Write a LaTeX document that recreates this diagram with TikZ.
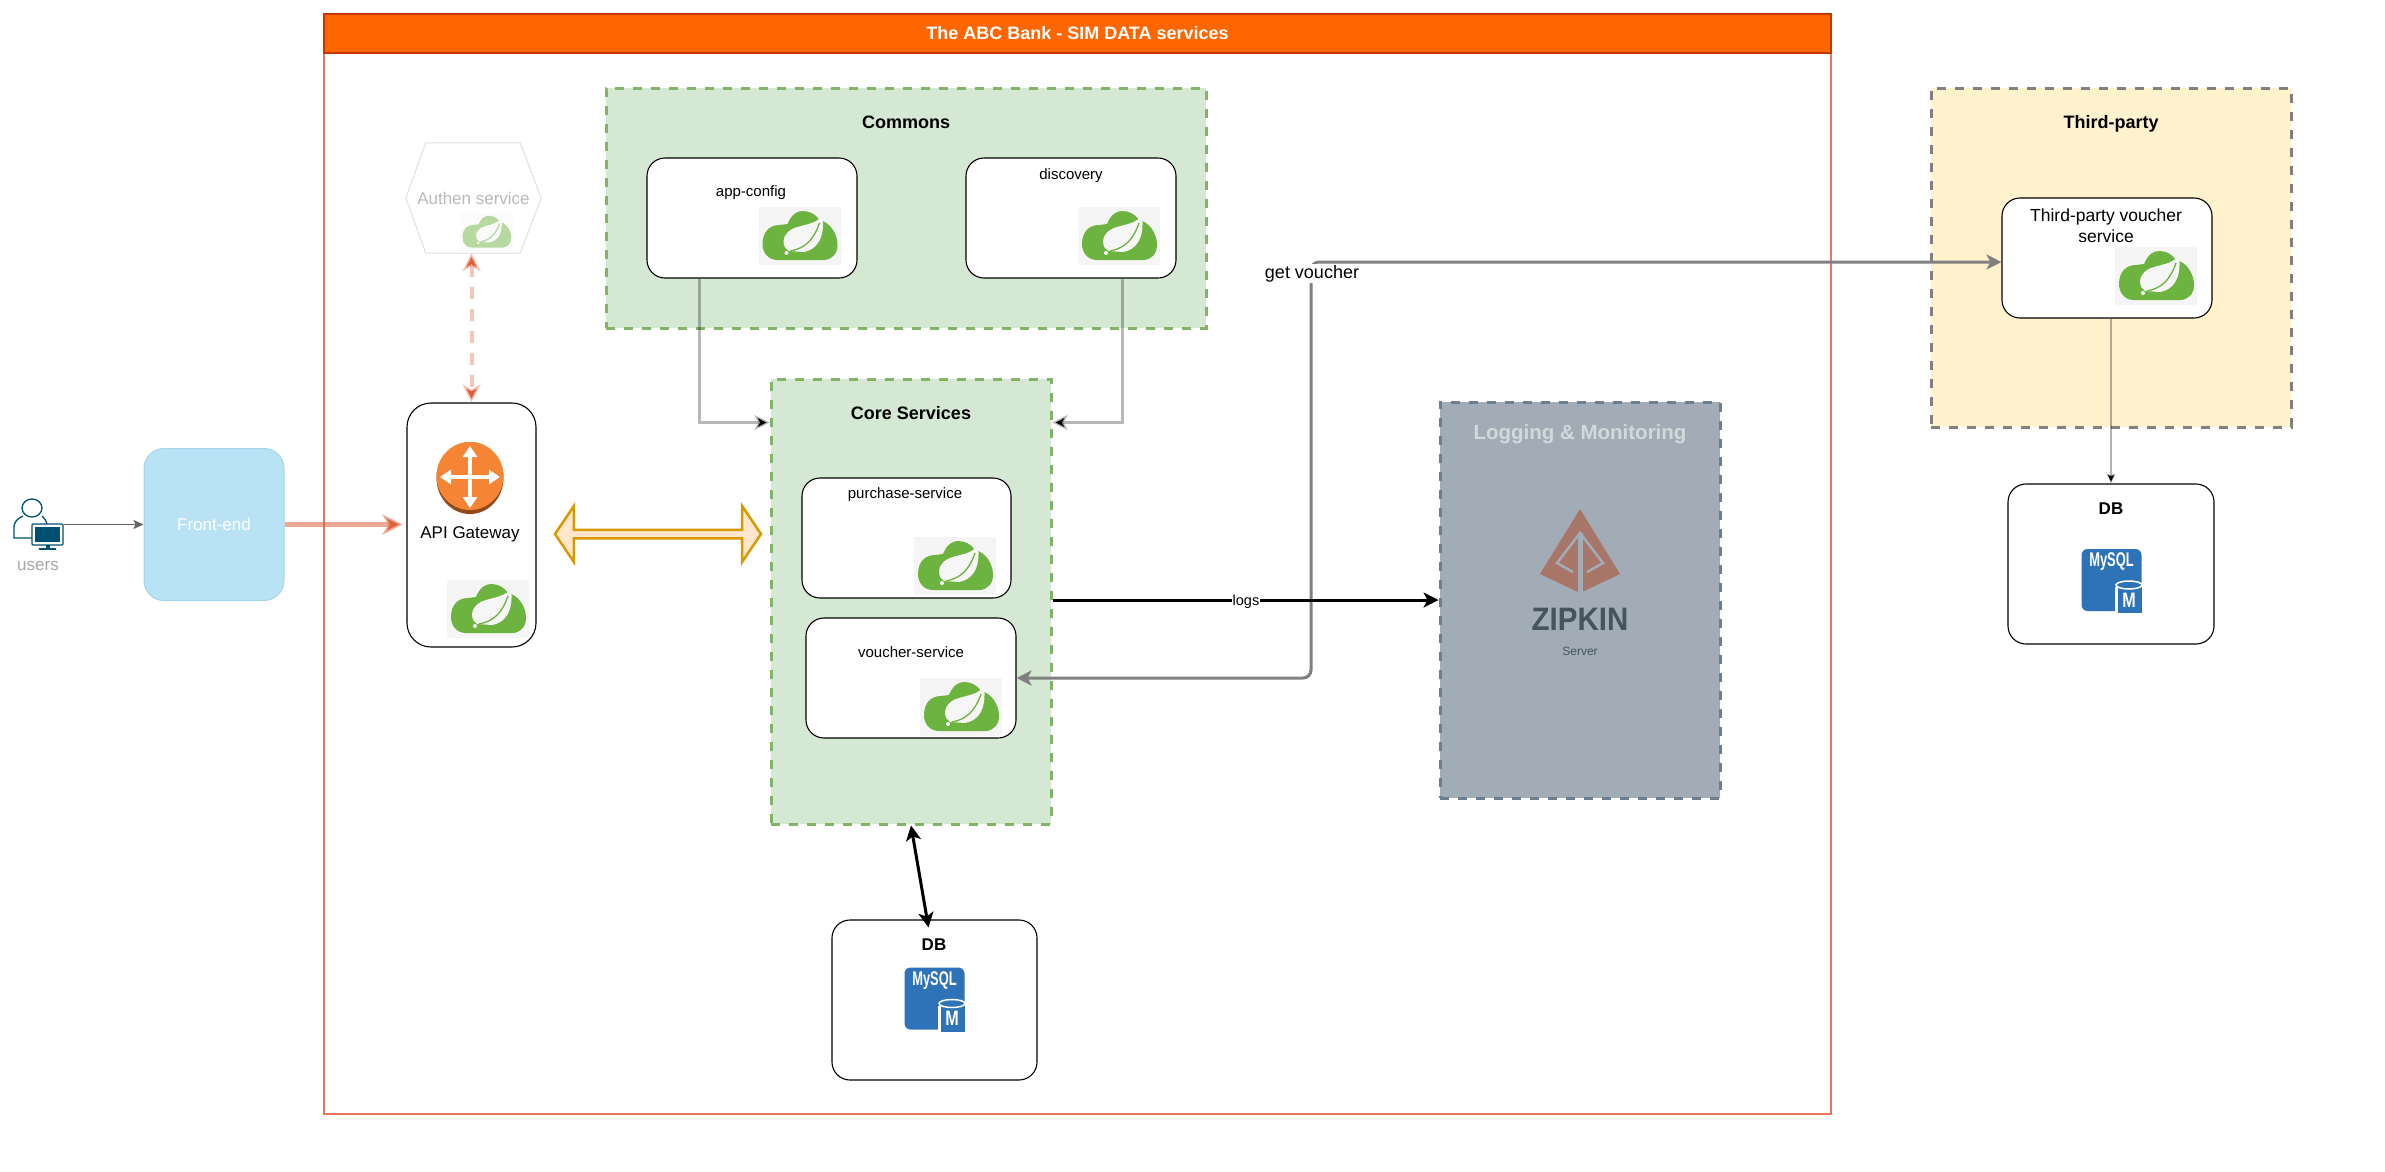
\documentclass[tikz,border=0pt]{standalone}
\usepackage{fontspec}
\setmainfont{Liberation Sans}
\usetikzlibrary{arrows.meta, positioning, shapes.arrows}
\definecolor{leafgreen}{HTML}{6DB33F}
\definecolor{leafpale}{HTML}{F6F6F6}
\definecolor{iconback}{HTML}{F5F5F5}
\definecolor{mysqlblue}{HTML}{2E73B8}
\definecolor{usersblue}{HTML}{005073}
\definecolor{greengroup}{HTML}{D5E8D4}
\definecolor{greendash}{HTML}{82B366}
\definecolor{loggrey}{HTML}{A2ACB6}
\definecolor{logdash}{HTML}{6D7F8F}
\definecolor{logtext}{HTML}{D3D8DD}
\definecolor{logdark}{HTML}{47535F}
\definecolor{zipkinred}{HTML}{A87668}
\definecolor{routerorange}{HTML}{F58534}
\definecolor{routerbrown}{HTML}{8F4A1C}
\definecolor{barorange}{HTML}{FF6600}
\definecolor{barline}{HTML}{C73500}
\definecolor{mainline}{HTML}{E8765A}
\definecolor{redarrow}{HTML}{E0603C}
\definecolor{frontblue}{HTML}{B9E2F5}
\definecolor{frontline}{HTML}{A5D3EC}
\definecolor{goldline}{HTML}{D79B00}
\definecolor{goldfill}{HTML}{FFE6CC}
\definecolor{thirdfill}{HTML}{FFF2CC}
\definecolor{palegreen}{HTML}{B6D99F}
\newcommand{\fs}[1]{\fontsize{#1}{#1}\selectfont}

\tikzset{
  springlogo/.pic={
    \fill[iconback] (-41,-29) rectangle (41,29);
    \fill[leafgreen] (-37,8) .. controls (-37,-4) and (-30,-11) .. (-20,-11)
      -- (-12,-12) .. controls (-8,-22) and (-2,-25) .. (3,-25)
      .. controls (10,-25) and (16,-22) .. (20,-16)
      .. controls (30,-14) and (38,-3) .. (38,9)
      .. controls (38,18) and (32,24) .. (24,24) -- (-22,24)
      .. controls (-32,24) and (-37,16) .. (-37,8) -- cycle;
    \fill[leafpale] (23,-21) .. controls (18,-13) and (8,-12) .. (-2,-9)
      .. controls (-10,-7) and (-16,-1) .. (-16,5)
      .. controls (-16,10) and (-14,13) .. (-11,15)
      -- (4,16) .. controls (16,14) and (26,4) .. (23,-21) -- cycle;
    \draw[leafgreen, line width=1.3pt] (-9,15) .. controls (6,12) and (14,4) .. (20,-13);
    \fill[leafpale] (-13,17) circle (2);
  },
  mysqllogo/.pic={
    \fill[mysqlblue, rounded corners=6pt] (-30,-32) rectangle (30,30);
    \fill[white] (3,6) rectangle (31,33);
    \fill[mysqlblue] (6,6) rectangle (30,32);
    \draw[white, line width=1.5pt, fill=mysqlblue] (17.5,4) ellipse (13 and 4);
    \node[font=\fs{16.5}\bfseries, text=white, xscale=.78, yscale=1.2, inner sep=0pt] (mysqltext) at (0,-19) {MySQL};
    \node[font=\fs{19}\bfseries, text=white, xscale=.85, yscale=1.1, inner sep=0pt] (mysqlm) at (17.5,19) {M};
  },
  routerlogo/.pic={
    \fill[routerbrown] (0,0) ellipse (33.5 and 36);
    \fill[routerorange] (0,-2) ellipse (33.5 and 34);
    \draw[white, line width=4pt, {Triangle[length=11pt,width=14pt]}-{Triangle[length=11pt,width=14pt]}] (0,-32) -- (0,30);
    \draw[white, line width=4pt, {Triangle[length=11pt,width=14pt]}-{Triangle[length=11pt,width=14pt]}] (-30,-1) -- (30,-1);
  },
  userlogo/.pic={
    \draw[usersblue, line width=1.3pt] (18,-16) ellipse (10 and 9);
    \draw[usersblue, line width=1.3pt] (32,14) -- (0,14) -- (0,3)
      .. controls (0,-2) and (4,-6) .. (9,-8) (28,-8) .. controls (30,-6) and (32,-4) .. (33,0);
    \draw[usersblue, line width=1.3pt, fill=white, rounded corners=1pt] (18,0) rectangle (49,21);
    \fill[usersblue] (21,3) rectangle (46,18);
    \fill[usersblue] (31.5,21) rectangle (35.5,24);
    \fill[usersblue] (25,24) rectangle (42,26);
  },
  zipkinlogo/.pic={
    \fill[zipkinred] (0,-65) -- (40,0) -- (0,19) -- (-40,0) -- cycle;
    \draw[loggrey, line width=2.5pt] (-7,-2) -- (-23,-11) -- (0,-41) -- (23,-11) -- (7,-2);
    \draw[loggrey, line width=5pt] (0,-41) -- (0,20);
  }
}

\begin{document}
\begin{tikzpicture}[
    x=1pt, y=-1pt,
    box/.style={draw=black, fill=white, line width=1.1pt, rounded corners=18pt, inner sep=0pt},
    group/.style={dash pattern=on 9pt off 9pt, line width=3pt, inner sep=0pt},
    title/.style={font=\fs{18}\bfseries, inner sep=0pt},
    small/.style={font=\fs{15}, inner sep=0pt},
    plain/.style={font=\fs{17}, inner sep=0pt},
    greyarr/.style={draw=gray, line width=3pt, rounded corners=8pt},
    softarr/.style={draw=black, draw opacity=.28, line width=3pt},
    blackarr/.style={draw=black, line width=3pt}
]
\useasboundingbox (0,0) rectangle (2385,1171);

\node[draw=mainline, line width=1.5pt, fill=white, minimum width=1507pt, minimum height=1100pt] (main) at (1077.5,564) {};
\node[draw=barline, fill=barorange, line width=1.2pt, minimum width=1507pt, minimum height=39pt, text=white, font=\fs{18}\bfseries] (bar) at (1077.5,33.5) {The ABC Bank - SIM DATA services};

\node[group, draw=greendash, fill=greengroup, minimum width=600pt, minimum height=240pt] (commons) at (906,208) {};
\node[group, draw=greendash, fill=greengroup, minimum width=280pt, minimum height=445pt] (core)    at (911,601.5) {};
\node[group, draw=logdash, fill=loggrey, minimum width=280pt, minimum height=396pt] (logging) at (1580,600) {};
\node[group, draw=gray, fill=thirdfill, minimum width=360pt, minimum height=339pt] (third) at (2111,257.5) {};

\node[title] (commonstitle) at (906,122) {Commons};
\node[title] (coretitle)    at (911,413.5) {Core Services};
\node[title] (thirdtitle)   at (2111,124) {Third-party};
\node[font=\fs{20.5}\bfseries, text=logtext, inner sep=0pt] (loggingtitle) at (1580,434) {Logging \& Monitoring};

\node[box, minimum width=210pt, minimum height=120pt] (appconfig) at (752,218) {};
\node[box, minimum width=210pt, minimum height=120pt] (discovery) at (1071,218) {};
\node[box, minimum width=209pt, minimum height=120pt] (purchase)  at (906.5,538) {};
\node[box, minimum width=210pt, minimum height=120pt] (voucher)   at (911,678) {};
\node[box, minimum width=210pt, minimum height=120pt] (thirdvoucher) at (2107,258) {};
\node[box, minimum width=206pt, minimum height=160pt] (dbright) at (2111,564) {};
\node[box, minimum width=205pt, minimum height=160pt] (dblow)   at (934.5,1000) {};
\node[box, rounded corners=24pt, minimum width=129pt, minimum height=244pt] (gateway) at (471.5,525) {};
\node[fill=frontblue, draw=frontline, line width=1pt, rounded corners=20pt, minimum width=140pt, minimum height=152pt, text=white, font=\fs{17}] (frontend) at (214,524.5) {Front-end};

\node[small] (appconfiglabel) at (751,192.5) {app-config};
\node[small] (discoverylabel) at (1071,175.5) {discovery};
\node[small] (purchaselabel)  at (905,495) {purchase-service};
\node[small] (voucherlabel)   at (911,652) {voucher-service};
\node[plain] (gatewaylabel)   at (470,534) {API Gateway};
\node[plain, font=\fontsize{17.5}{21}\selectfont, align=center] (thirdvoucherlabel) at (2106,225.5) {Third-party voucher\\service};
\node[font=\fs{17}\bfseries, inner sep=0pt] (dblowlabel)   at (934,944.5) {DB};
\node[font=\fs{17}\bfseries, inner sep=0pt] (dbrightlabel) at (2111,508.5) {DB};
\node[plain, text=black!35] (userslabel) at (38,566) {users};

\node[minimum width=135pt, minimum height=110pt, inner sep=0pt, text=black!27, font=\fs{17}] (authen) at (473.5,198) {Authen service};
\draw[black!12, line width=1pt] (authen.west) -- ([xshift=20pt]authen.north west) -- ([xshift=-21pt]authen.north east)
  -- (authen.east) -- ([xshift=-21pt]authen.south east) -- ([xshift=20pt]authen.south west) -- cycle;

\pic at (799.5,236) {springlogo};
\pic at (1119,236) {springlogo};
\pic at (955,566) {springlogo};
\pic at (961,707) {springlogo};
\pic at (2156,276) {springlogo};
\pic at (488,609) {springlogo};
\begin{scope}
  \colorlet{leafgreen}{palegreen}
  \colorlet{iconback}{iconback!40!white}
  \colorlet{leafpale}{leafpale!50!white}
  \pic[scale=.65] at (486.5,232) {springlogo};
\end{scope}
\pic at (934.5,999.5) {mysqllogo};
\pic at (2111.5,581) {mysqllogo};
\pic at (470,478) {routerlogo};
\pic at (14,524) {userlogo};
\pic at (1580,574) {zipkinlogo};

\node[font=\fs{29.5}\bfseries, text=logdark, yscale=1.1, inner sep=0pt] (zipkinname) at (1580,619) {ZIPKIN};
\node[font=\fs{12}, text=logdark, inner sep=0pt] (zipkinserver) at (1580,651) {Server};

\coordinate (usersout) at (64,524.5);
\coordinate (vbend) at (1311,420);

\draw[draw=black!60, line width=1.5pt, -{Stealth[length=10pt,width=9pt,inset=2pt]}] (usersout) -- (frontend.west);
\draw[draw=redarrow, draw opacity=.55, line width=4.5pt, -{Stealth[length=20pt,width=20pt,inset=6pt]}, shorten >=4pt] (frontend.east) -- (frontend.east -| gateway.west);
\draw[draw=redarrow, draw opacity=.35, line width=4pt, dash pattern=on 12pt off 10pt, {Stealth[length=18pt,width=18pt,inset=5pt]}-{Stealth[length=18pt,width=18pt,inset=5pt]}] (gateway.north |- authen.south) -- (gateway.north);
\node[double arrow, draw=goldline, fill=goldfill, line width=2.5pt, minimum width=56pt, minimum height=206pt, double arrow tip angle=112, double arrow head extend=7pt, double arrow head indent=0pt, inner sep=0pt] (gatewayarrow) at (658,534) {};

\draw[softarr, -{Stealth[length=15pt,width=15pt,inset=4pt]}] ([xshift=-53pt]appconfig.south) |- ([yshift=-45pt]core.north west);
\draw[softarr, -{Stealth[length=15pt,width=15pt,inset=4pt]}] ([xshift=51pt]discovery.south) |- ([yshift=-45pt]core.north east);
\draw[greyarr, {Stealth[length=15pt,width=15pt,inset=4pt]}-{Stealth[length=15pt,width=15pt,inset=4pt]}] ([yshift=-4pt]thirdvoucher.west) -| (vbend) |- (voucher.east);
\draw[blackarr, -{Stealth[length=15pt,width=15pt,inset=4pt]}] (core.east |- logging.west) -- (logging.west);
\draw[blackarr, {Stealth[length=15pt,width=15pt,inset=4pt]}-{Stealth[length=15pt,width=15pt,inset=4pt]}] (core.south) -- ([xshift=-6pt,yshift=-8pt]dblow.north);
\draw[draw=black, draw opacity=.3, line width=1.5pt, -{Stealth[length=10pt,width=9pt,inset=2pt]}] (dbright.north |- thirdvoucher.south) -- (dbright.north);

\node[small, font=\fs{14.5}, fill=white, inner sep=1pt] (logslabel) at (1246,601.5) {logs};
\node[plain, font=\fs{18}, fill=white, inner sep=1.5pt] (getvoucher) at (1312,273.5) {get voucher};
\end{tikzpicture}
\end{document}
